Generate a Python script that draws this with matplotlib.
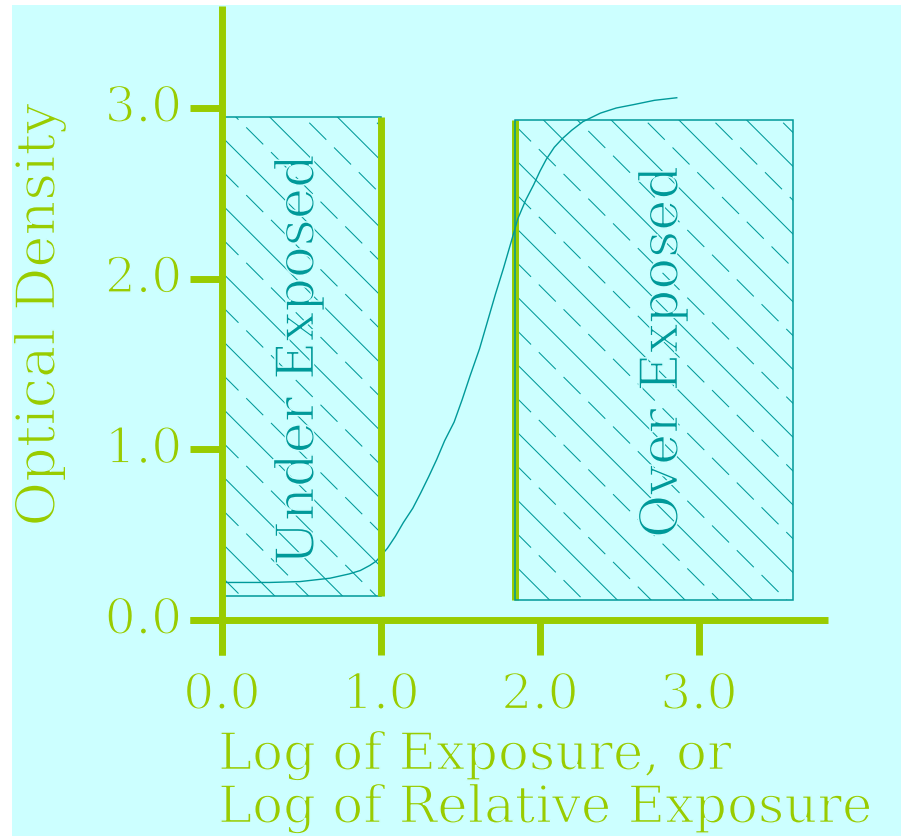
import matplotlib
matplotlib.use("Agg")
import matplotlib.pyplot as plt
import matplotlib.patheffects as pe
from matplotlib.patches import Rectangle
import numpy as np

# Characteristic (H&D) curve: log exposure vs optical density
curve_x = [0.00, 0.30, 0.49, 0.68, 0.80, 0.87, 0.93, 0.97, 1.04, 1.09, 1.14,
           1.20, 1.25, 1.30, 1.35, 1.40, 1.46, 1.51, 1.56, 1.62, 1.67, 1.72,
           1.77, 1.82, 1.86, 1.91, 1.96, 2.00, 2.04, 2.09, 2.14, 2.20, 2.27,
           2.38, 2.48, 2.59, 2.72, 2.86]
curve_y = [0.22, 0.22, 0.225, 0.245, 0.27, 0.29, 0.32, 0.345, 0.42, 0.49, 0.57,
           0.655, 0.745, 0.84, 0.94, 1.05, 1.16, 1.29, 1.43, 1.59, 1.75, 1.91,
           2.06, 2.22, 2.35, 2.46, 2.55, 2.63, 2.70, 2.77, 2.82, 2.87, 2.92,
           2.97, 3.00, 3.02, 3.045, 3.06]

# Exposure regions
under_x = [0.0, 1.0]
under_y = [0.14, 2.95]
over_x = [1.84, 3.59]
over_y = [0.12, 2.93]

x_ticks = [0.0, 1.0, 2.0, 3.0]
y_ticks = [0.0, 1.0, 2.0, 3.0]
x_tick_labels = ["0.0", "1.0", "2.0", "3.0"]
y_tick_labels = ["0.0", "1.0", "2.0", "3.0"]

BG = "#ccffff"
GREEN = "#99cc00"
TEAL = "#009999"
SERIF = ["DejaVu Serif"]
# thin the glyph strokes a little by tracing the outline in the background colour
THIN = [pe.Normal(), pe.Stroke(linewidth=1.1, foreground=BG)]

plt.rcParams["lines.scale_dashes"] = False

W, H = 901, 836
fig = plt.figure(figsize=(W / 100, H / 100), dpi=100, facecolor="white")

# light background panel
bg_ax = fig.add_axes([12 / W, 0, (W - 12) / W, (H - 5) / H], zorder=-5)
bg_ax.set_facecolor(BG)
bg_ax.set_xticks([])
bg_ax.set_yticks([])
for s in bg_ax.spines.values():
    s.set_visible(False)

ax = fig.add_axes([0, 0, 1, 1], zorder=1)
ax.patch.set_alpha(0)
ax.axis("off")
SX, SY = 159.0, 170.67          # pixels per unit
X0, Y0 = 222.0, 620.0           # pixel position of the origin (y down)
ax.set_xlim(-X0 / SX, (W - X0) / SX)
ax.set_ylim((Y0 - H) / SY, Y0 / SY)

AXW = 5.0  # axis line width in points


def hatch_box(xr, yr, clip):
    """Diagonal hatching with alternating solid and dashed lines."""
    (px0, py0) = ax.transData.transform((xr[0], yr[0]))
    (px1, py1) = ax.transData.transform((xr[1], yr[1]))
    inv = ax.transData.inverted()
    step = 33.85
    base = 17.3 + H  # x + y_up for a solid line
    kmin = int(np.floor((px0 + py0 - base) / step)) - 1
    kmax = int(np.ceil((px1 + py1 - base) / step)) + 1
    for k in range(kmin, kmax + 1):
        K = base + k * step
        xa, xb = px0 - 50, px1 + 50
        pts = inv.transform([(xa, K - xa), (xb, K - xb)])
        ls = (0, (17.3, 7.9)) if k % 2 else "-"
        ln, = ax.plot(pts[:, 0], pts[:, 1], color=TEAL, lw=0.75,
                      linestyle=ls, zorder=2)
        ln.set_clip_path(clip)


# Under-exposed region
r1 = Rectangle((under_x[0], under_y[0]), under_x[1] - under_x[0],
               under_y[1] - under_y[0], facecolor="none", edgecolor=TEAL,
               lw=1.1, zorder=3)
ax.add_patch(r1)
hatch_box(under_x, under_y, r1)
ax.plot([under_x[1], under_x[1]], under_y, color=GREEN, lw=AXW,
        solid_capstyle="butt", zorder=5)

# Over-exposed region
ax.plot([over_x[0], over_x[0]], over_y, color=GREEN, lw=AXW,
        solid_capstyle="butt", zorder=2.5)
r2 = Rectangle((over_x[0], over_y[0]), over_x[1] - over_x[0],
               over_y[1] - over_y[0], facecolor="none", edgecolor=TEAL,
               lw=1.1, zorder=3)
ax.add_patch(r2)
hatch_box(over_x, over_y, r2)

# Density curve
ax.plot(curve_x, curve_y, color=TEAL, lw=1.0, zorder=4)

# Axes drawn as lines with outward ticks
tick_len = 0.2
ax.plot([-tick_len, 3.81], [0, 0], color=GREEN, lw=AXW,
        solid_capstyle="butt", zorder=6)
ax.plot([0, 0], [-0.205, 3.60], color=GREEN, lw=AXW,
        solid_capstyle="butt", zorder=6)
for xt, lab in zip(x_ticks, x_tick_labels):
    ax.plot([xt, xt], [0, -0.205], color=GREEN, lw=AXW,
            solid_capstyle="butt", zorder=6)
    ax.text(xt, -0.44, lab, color=GREEN, family=SERIF, fontsize=35,
            ha="center", va="center", zorder=7, path_effects=THIN)
for yt, lab in zip(y_ticks, y_tick_labels):
    ax.text(-0.25, yt, lab, color=GREEN, family=SERIF, fontsize=35,
            ha="right", va="center", zorder=7, path_effects=THIN)
    ax.plot([-tick_len, 0], [yt, yt], color=GREEN, lw=AXW,
            solid_capstyle="butt", zorder=6)

# Axis titles
ax.text(40 / W, 1 - 315 / H, "Optical Density", transform=fig.transFigure,
        color=GREEN, family=SERIF, fontsize=39, rotation=90,
        ha="center", va="center", path_effects=THIN)
ax.text(218 / W, 1 - 731 / H, "Log of Exposure, or\nLog of Relative Exposure",
        transform=fig.transFigure, color=GREEN, family=SERIF, fontsize=37,
        ha="left", va="top", linespacing=1.08, path_effects=THIN)

# Region labels
ax.text(299 / W, 1 - 360 / H, "Under Exposed", transform=fig.transFigure,
        color=TEAL, family=SERIF, fontsize=38, rotation=90,
        ha="center", va="center", zorder=8, path_effects=THIN)
ax.text(663 / W, 1 - 352 / H, "Over Exposed", transform=fig.transFigure,
        color=TEAL, family=SERIF, fontsize=38, rotation=90,
        ha="center", va="center", zorder=8, path_effects=THIN)

fig.savefig("out.png", dpi=100, facecolor=fig.get_facecolor())
